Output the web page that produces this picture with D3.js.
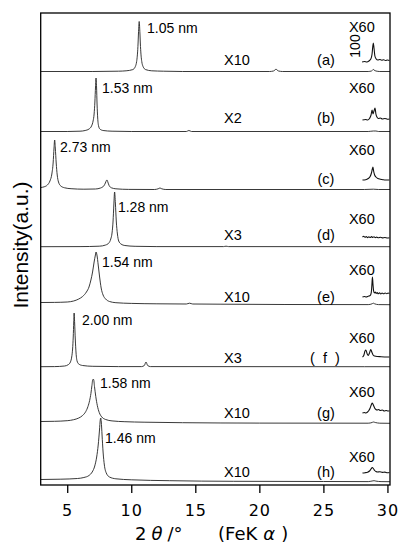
<!DOCTYPE html>
<html><head><meta charset="utf-8">
<script src="https://cdn.jsdelivr.net/npm/d3@7"></script>
<style>body{margin:0;background:#fff} svg{display:block}</style>
</head><body><svg id="c" width="398" height="544"></svg>
<script>
// ---------- DATA ----------
const panels = ["(a)","(b)","(c)","(d)","(e)","(f)","(g)","(h)"];
const dSpacing = ["1.05 nm","1.53 nm","2.73 nm","1.28 nm","1.54 nm","2.00 nm","1.58 nm","1.46 nm"];
const scaleFactors = ["X10","X2","","X3","X10","X3","X10","X10"];
const insetFactor = "X60";
const xTicks = [5,10,15,20,25,30];
// vertical offset of each trace (a.u.)
const offsets = [413,353,295,238,180,118,61.5,3];
const insetBase = [423,365,305,247,188,128,72,12];

// traces: [2theta, intensity]
const traceA = [[2.93,0.5],[7,0.5],[9,0.8],[9.6,1.2],[10.12,2.4],[10.32,5.5],[10.42,10.5],[10.47,15.9],[10.52,25.5],[10.57,40.5],[10.62,50.5],[10.67,40.5],[10.72,25.5],[10.77,15.9],[10.82,10.5],[10.92,5.5],[11.12,2.4],[11.6,1.2],[12.5,0.8],[14,0.5],[20.8,0.5],[21.1,1],[21.22,2],[21.3,3],[21.38,2],[21.5,1],[21.8,0.5],[28.5,0.5],[28.75,1],[28.85,2],[28.9,2.5],[28.95,2],[29.1,1],[29.4,0.5],[30.2,0.5]];
const traceB = [[2.93,0.5],[5,0.5],[6,0.8],[6.4,1.5],[6.7,3],[6.9,6],[7.02,11],[7.1,18],[7.16,30],[7.21,45],[7.25,54],[7.29,45],[7.33,28],[7.38,14],[7.45,6],[7.55,3],[7.8,1.5],[8.5,0.8],[10,0.5],[14.3,0.5],[14.5,1.5],[14.7,0.5],[28.5,0.5],[28.9,1],[29.1,1],[29.3,0.5],[30.2,0.5]];
const traceC = [[2.93,2.5],[3.2,3.2],[3.45,5],[3.65,9],[3.8,16],[3.9,27],[3.97,42],[4.02,50],[4.07,42],[4.14,27],[4.22,15],[4.32,8],[4.5,4],[4.8,2.2],[5.3,1.3],[6.3,0.8],[7.2,1],[7.6,2],[7.85,4],[7.98,7],[8.06,9.5],[8.11,10],[8.17,8],[8.27,4.5],[8.45,2.2],[8.8,1.2],[9.8,0.6],[11.8,0.5],[12.1,1.2],[12.24,2],[12.38,1.2],[12.7,0.5],[28.2,0.5],[28.9,0.8],[29.3,0.5],[30.2,0.5]];
const traceD = [[2.93,0.3],[6,0.4],[7.5,0.8],[8.0,2],[8.25,4],[8.4,8],[8.5,14],[8.58,26],[8.64,42],[8.7,55],[8.76,44],[8.83,26],[8.92,13],[9.02,6],[9.2,3],[9.5,1.5],[10.3,0.7],[12,0.4],[17.2,0.4],[17.4,0.8],[17.6,0.4],[30.2,0.3]];
const traceE = [[2.93,2.5],[4,2.6],[5,3],[5.5,4],[5.9,6],[6.2,8.5],[6.5,13],[6.7,18],[6.85,25],[6.98,33],[7.1,43],[7.2,50],[7.25,53],[7.32,50],[7.42,40],[7.53,28],[7.65,17],[7.8,10],[8,6],[8.3,3.5],[8.8,2.3],[10,1.6],[12,1.2],[14.3,1],[14.55,1.8],[14.8,1],[17,0.8],[22,0.5],[28.5,0.4],[28.8,1.2],[28.9,1.8],[29,1.2],[29.3,0.4],[30.2,0.3]];
const traceF = [[2.93,0.3],[4,0.4],[4.8,1],[5.1,2.5],[5.25,5],[5.35,10],[5.42,18],[5.47,30],[5.51,45],[5.54,54],[5.58,44],[5.63,28],[5.69,14],[5.77,6],[5.9,3],[6.2,1.5],[7,0.7],[9,0.4],[10.8,0.4],[11.02,1.5],[11.15,5],[11.28,1.5],[11.5,0.4],[28.2,0.3],[30.2,0.3]];
const traceG = [[2.93,2],[4,2.2],[5,2.8],[5.5,3.8],[5.9,5.5],[6.2,8],[6.45,12],[6.62,17],[6.75,23],[6.85,30],[6.93,38],[7.0,44],[7.06,44],[7.13,37],[7.23,27],[7.35,18],[7.5,11],[7.7,6.5],[8,4],[8.5,2.6],[9.5,1.8],[11,1.3],[14,0.8],[20,0.4],[28.5,0.3],[28.8,1],[28.9,1.5],[29.05,1],[29.4,0.3],[30.2,0.2]];
const traceH = [[2.93,2.5],[4.5,2.8],[5.8,3.5],[6.3,4.5],[6.7,6.5],[6.95,10],[7.15,16],[7.3,25],[7.42,37],[7.52,52],[7.58,62],[7.62,64],[7.66,60],[7.72,47],[7.8,30],[7.9,17],[8.05,9],[8.3,5],[8.8,3.2],[10,2.2],[13,1.3],[18,0.7],[25,0.5],[28.5,0.4],[28.8,1],[28.95,1.3],[29.1,0.9],[29.5,0.4],[30.2,0.3]];

// X60 enlarged segments: [2theta, intensity]
const insetA = [[28.02,0],[28.2,0.5],[28.4,0],[28.55,1],[28.7,3],[28.8,8],[28.86,16],[28.9,19],[28.95,14],[29.02,6],[29.12,3],[29.25,2],[29.4,2.5],[29.55,1.8],[29.7,2.3],[29.85,1.5],[30.0,2],[30.15,1.5]];
const insetB = [[28.05,0],[28.3,0.5],[28.45,0],[28.6,1.5],[28.72,5],[28.8,10],[28.87,6],[28.95,9],[29.03,12],[29.1,6],[29.18,3],[29.3,1.5],[29.45,2],[29.6,1],[29.8,1.5],[30.0,0.8],[30.15,1]];
const insetC = [[28.05,0],[28.3,0.3],[28.5,1.5],[28.65,3.5],[28.75,7],[28.82,11],[28.87,13],[28.92,9],[29.0,5],[29.1,3],[29.25,1.5],[29.45,0.8],[29.65,0.3],[29.85,0],[30.15,0]];
const insetD = [[28.05,1],[28.15,1.8],[28.25,0.6],[28.35,1.5],[28.45,0.4],[28.55,1.3],[28.65,0.5],[28.75,1.4],[28.85,0.6],[28.95,1.2],[29.05,0.4],[29.15,0.9],[29.3,0.2],[29.45,0.7],[29.6,0.1],[29.8,0.5],[30.0,0],[30.15,0.3]];
const insetE = [[28.05,0],[28.2,0.5],[28.35,0],[28.5,0.8],[28.62,1.2],[28.7,2.5],[28.76,7],[28.8,15],[28.83,20],[28.87,13],[28.92,6],[28.98,4],[29.05,5],[29.12,3.5],[29.2,4.5],[29.28,3.2],[29.38,4.2],[29.48,3],[29.58,4],[29.7,3.2],[29.82,4],[29.95,3.3],[30.05,4],[30.15,3.5]];
const insetF = [[28.05,0],[28.15,1.5],[28.25,6],[28.32,7],[28.42,3],[28.5,1.5],[28.6,4],[28.7,7.5],[28.78,5],[28.88,2],[29.0,1],[29.2,0.5],[29.5,0.3],[30.15,0]];
const insetG = [[28.05,0],[28.2,0.5],[28.3,0],[28.45,1],[28.55,2.5],[28.65,5],[28.75,8.5],[28.82,10],[28.9,8],[29.0,5],[29.1,3.5],[29.2,3],[29.3,3.5],[29.45,2.5],[29.6,3],[29.75,2],[29.9,2.5],[30.05,2],[30.15,2.2]];
const insetH = [[28.05,0],[28.25,0.3],[28.45,0.8],[28.6,2],[28.72,4],[28.82,5.5],[28.9,4.5],[29.0,2.5],[29.1,1.5],[29.25,1],[29.4,1.3],[29.6,0.6],[29.8,0.9],[30.0,0.3],[30.15,0.5]];

const traces = [traceA,traceB,traceC,traceD,traceE,traceF,traceG,traceH];
const insets = [insetA,insetB,insetC,insetD,insetE,insetF,insetG,insetH];

// ---------- LAYOUT (annotation anchors, data coords) ----------
const peakLabelPos = [[11.23,452],[7.72,392],[4.44,333],[8.96,273],[7.72,218],[6.15,160],[7.56,97],[7.95,42]];
const rowLabelY = [420,362,301,245,183,122,67,8];
const x60Y = [453,392,330,261,210,142,88,23];

// ---------- DRAW ----------
const svg = d3.select("#c");
const x = d3.scaleLinear().domain([2.93,30.2]).range([40.7,390]);
const y = d3.scaleLinear().domain([0,472]).range([485,13]);
const line = d3.line().x(d=>x(d[0])).y(d=>y(d[1])).curve(d3.curveMonotoneX);

svg.append("clipPath").attr("id","clip").append("rect")
  .attr("x",x.range()[0]).attr("y",y.range()[1])
  .attr("width",x.range()[1]-x.range()[0]).attr("height",y.range()[0]-y.range()[1]);

const g = svg.append("g").attr("clip-path","url(#clip)");
traces.forEach((t,i)=>{
  g.append("path").datum(t.map(p=>[p[0],offsets[i]+p[1]]))
    .attr("d",line).attr("fill","none").attr("stroke","#222").attr("stroke-width",0.9);
});
insets.forEach((t,i)=>{
  g.append("path").datum(t.map(p=>[p[0],insetBase[i]+p[1]]))
    .attr("d",line).attr("fill","none").attr("stroke","#111").attr("stroke-width",1.1);
});

// frame
svg.append("rect").attr("x",x.range()[0]).attr("y",y.range()[1])
  .attr("width",x.range()[1]-x.range()[0]).attr("height",y.range()[0]-y.range()[1])
  .attr("fill","none").attr("stroke","#000").attr("stroke-width",1.3);

// axis
const ax = svg.append("g").attr("transform",`translate(0,${y.range()[0]})`)
  .call(d3.axisBottom(x).tickValues(xTicks).tickSize(8).tickSizeOuter(0).tickPadding(12).tickFormat(d=>d));
ax.select(".domain").remove();
ax.selectAll(".tick line").attr("stroke","#000").attr("stroke-width",1.3);
ax.selectAll(".tick text").attr("font-family","DejaVu Sans").attr("font-size",16)
  .attr("letter-spacing","1px").attr("fill","#000");

const lab = svg.append("g").attr("font-family","Liberation Sans, Arial, sans-serif").attr("fill","#000");
dSpacing.forEach((s,i)=>{
  lab.append("text").attr("x",x(peakLabelPos[i][0])).attr("y",y(peakLabelPos[i][1]))
    .attr("font-size",14).text(s);
});
scaleFactors.forEach((s,i)=>{
  if(s) lab.append("text").attr("x",x(17.24)).attr("y",y(rowLabelY[i])).attr("font-size",14.5).text(s);
  lab.append("text").attr("x",x(25.2)).attr("y",y(rowLabelY[i])).attr("text-anchor","middle")
    .attr("font-size",14.5).attr("letter-spacing",i===5?"2px":"0px").text(i===5?"( f )":panels[i]);
  lab.append("text").attr("x",x(28.0)).attr("y",y(x60Y[i])).attr("text-anchor","middle")
    .attr("font-size",14.5).text(insetFactor);
});
lab.append("text").attr("transform",`translate(${x(27.46)+5},${y(439)}) rotate(-90)`)
  .attr("text-anchor","middle").attr("font-size",14).text("100");

// y title
svg.append("text").attr("transform","translate(28,245) rotate(-90)")
  .attr("text-anchor","middle").attr("font-family","Liberation Sans, Arial, sans-serif")
  .attr("font-size",21).text("Intensity(a.u.)");

// x title
const xt = svg.append("text").attr("x",135).attr("y",540).attr("font-family","DejaVu Sans").attr("font-size",18);
xt.append("tspan").text("2");
xt.append("tspan").attr("dx",5).attr("font-style","italic").text("θ");
xt.append("tspan").attr("dx",5).text("/°");
const xt2 = svg.append("text").attr("x",218).attr("y",540).attr("font-family","DejaVu Sans").attr("font-size",18);
xt2.append("tspan").text("(FeK");
xt2.append("tspan").attr("dx",6).attr("font-style","italic").text("α");
xt2.append("tspan").attr("dx",6).text(")");
</script></body></html>
